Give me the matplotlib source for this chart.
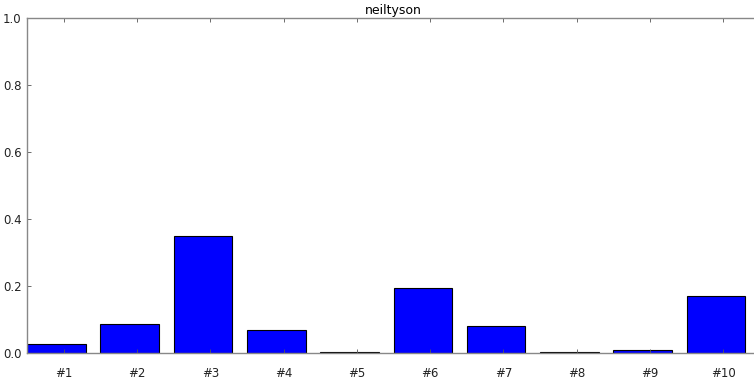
import matplotlib
matplotlib.use("Agg")
import matplotlib.pyplot as plt

categories = ["#1", "#2", "#3", "#4", "#5", "#6", "#7", "#8", "#9", "#10"]
values = [0.026, 0.0875, 0.349, 0.0687, 0.002, 0.193, 0.0806, 0.004, 0.009, 0.170]
title = "neiltyson"

fig = plt.figure(figsize=(7.54, 3.83), dpi=100)
ax = fig.add_axes([27/754, 30/383, 733/754, 335/383])

pos = list(range(len(categories)))
ax.bar(pos, values, width=0.8, align="edge", color="#0000ff",
       edgecolor="black", linewidth=0.8)
ax.set_xlim(0, 10)
ax.set_ylim(0, 1.0)
ax.set_xticks([p + 0.5 for p in pos])
ax.set_xticklabels(categories)
ax.set_yticks([0.0, 0.2, 0.4, 0.6, 0.8, 1.0])
ax.set_yticklabels(["0.0", "0.2", "0.4", "0.6", "0.8", "1.0"])
ax.tick_params(direction="in", length=3, width=0.6, colors="#555555",
               labelcolor="#222222", labelsize=8.5, top=True, right=True)
ax.tick_params(axis="x", pad=10)
ax.tick_params(axis="y", pad=4)
for s in ax.spines.values():
    s.set_color("#888888")
    s.set_linewidth(1.0)
ax.set_title(title, fontsize=9, pad=3)

fig.savefig("out.png", dpi=100)
